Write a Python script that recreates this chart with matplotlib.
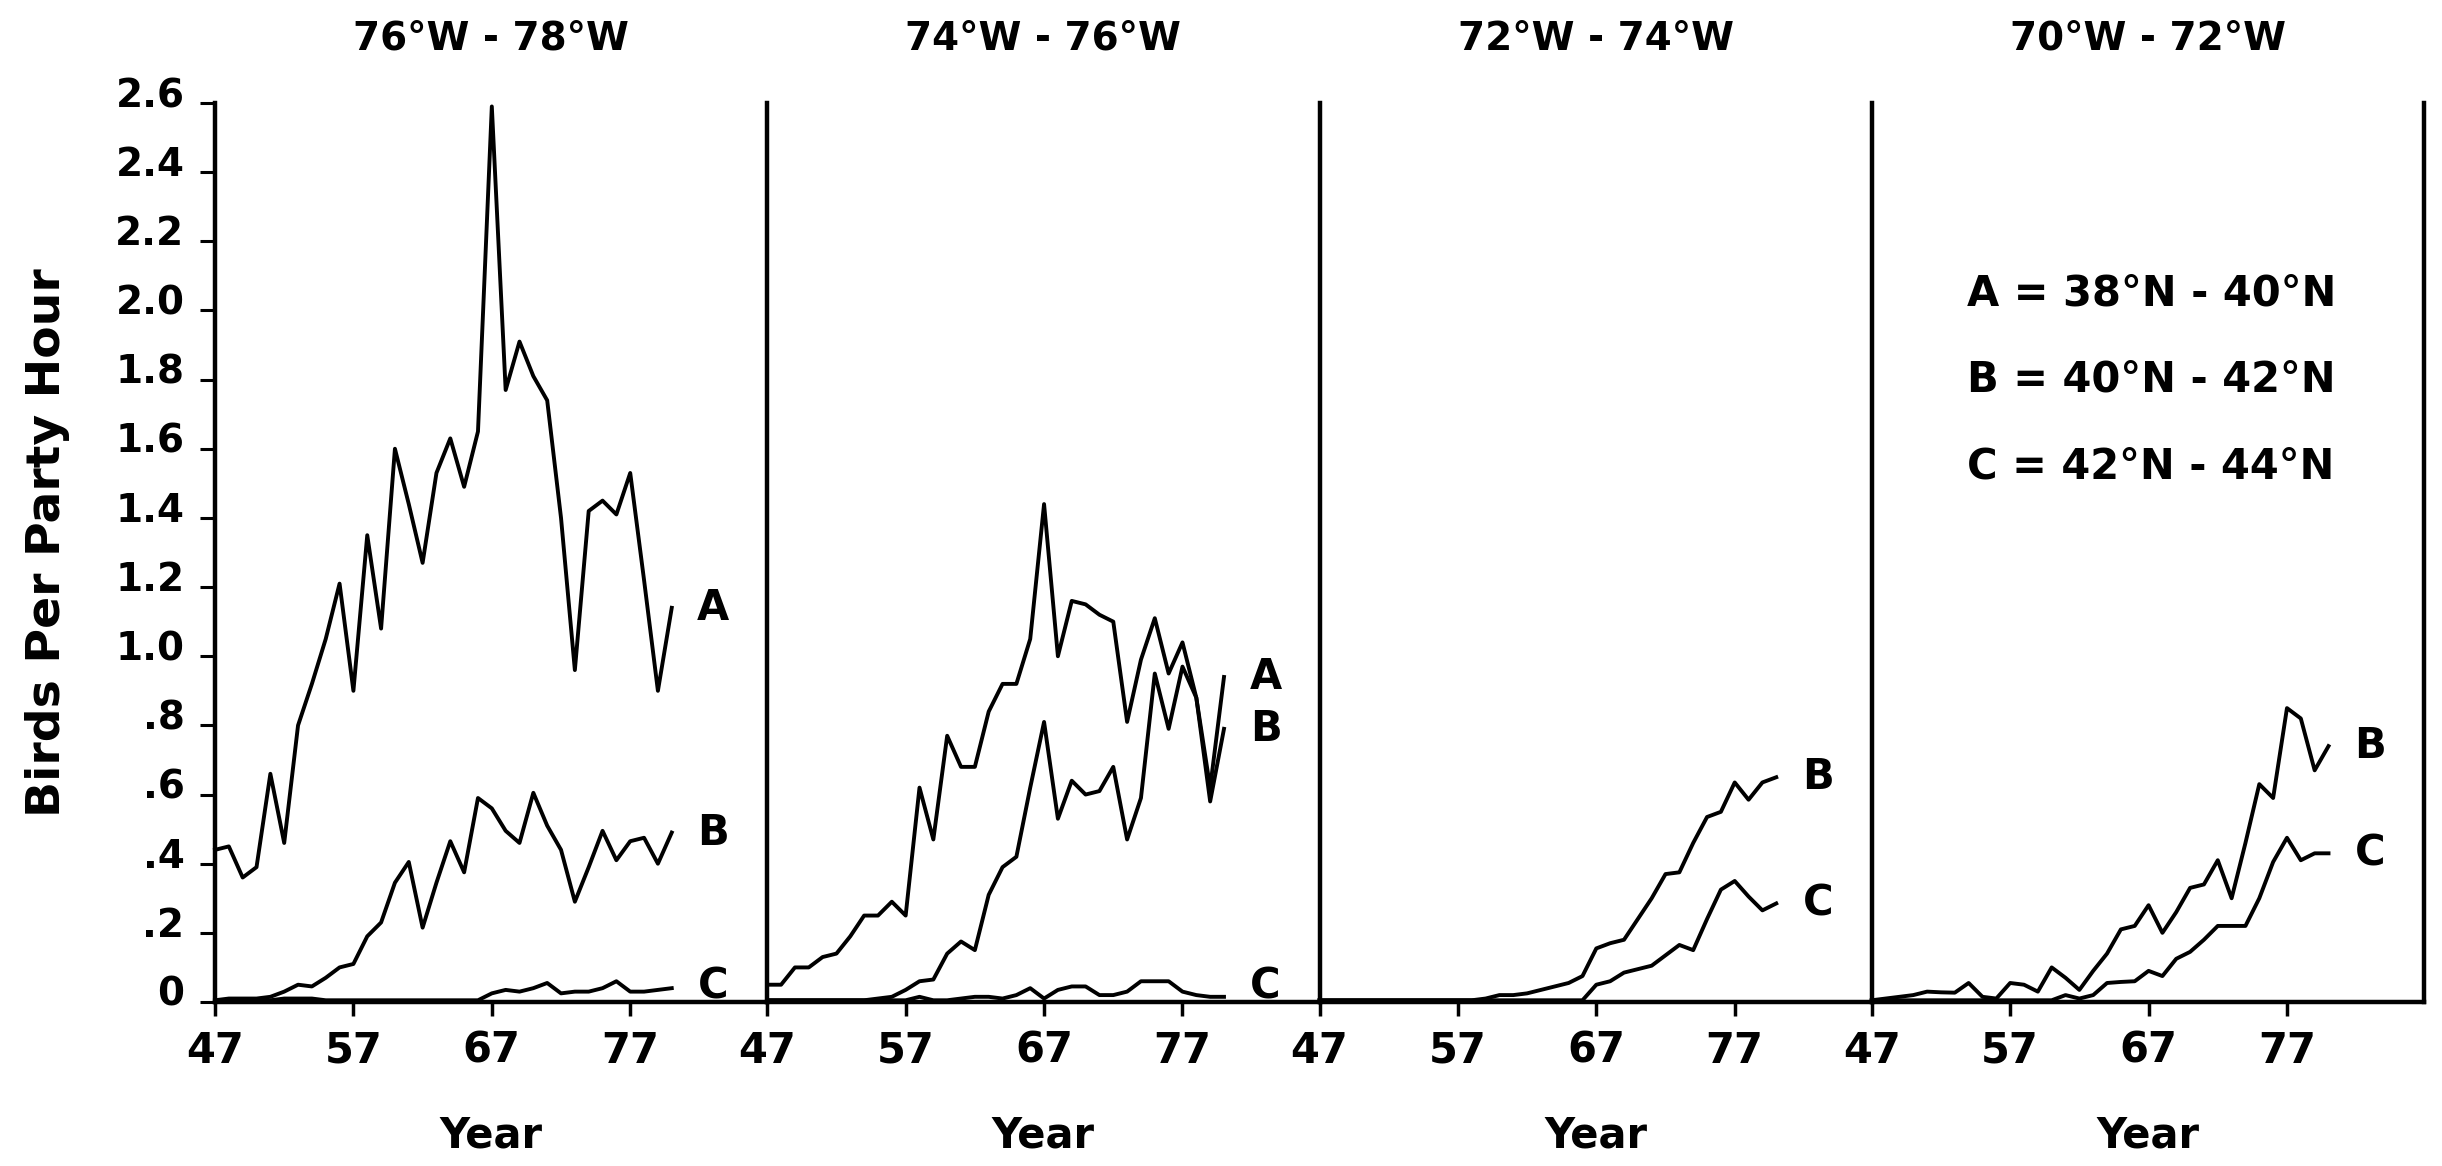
import matplotlib
matplotlib.use("Agg")
import matplotlib.pyplot as plt
import matplotlib.transforms as mtransforms

plt.rcParams['font.family'] = ['DejaVu Sans']
plt.rcParams['font.weight'] = 'bold'

# ---------------- data ----------------
years = list(range(47, 81))

panel_titles = ["76°W - 78°W", "74°W - 76°W", "72°W - 74°W", "70°W - 72°W"]

a_76_78 = [0.44, 0.45, 0.36, 0.39, 0.66, 0.46, 0.80, 0.92, 1.05, 1.21,
           0.90, 1.35, 1.08, 1.60, 1.44, 1.27, 1.53, 1.63, 1.49, 1.65,
           2.59, 1.77, 1.91, 1.81, 1.74, 1.40, 0.96, 1.42, 1.45, 1.41,
           1.53, 1.22, 0.90, 1.14]
b_76_78 = [0.005, 0.01, 0.01, 0.01, 0.015, 0.03, 0.05, 0.045, 0.07, 0.10,
           0.11, 0.19, 0.23, 0.345, 0.405, 0.215, 0.345, 0.465, 0.375, 0.59,
           0.56, 0.495, 0.46, 0.605, 0.51, 0.44, 0.29, 0.39, 0.495, 0.41,
           0.465, 0.475, 0.40, 0.49]
c_76_78 = [0.005, 0.005, 0.005, 0.005, 0.005, 0.01, 0.01, 0.01, 0.005, 0.005,
           0.005, 0.005, 0.005, 0.005, 0.005, 0.005, 0.005, 0.005, 0.005, 0.005,
           0.025, 0.035, 0.03, 0.04, 0.055, 0.025, 0.03, 0.03, 0.04, 0.06,
           0.03, 0.03, 0.035, 0.04]

a_74_76 = [0.05, 0.05, 0.10, 0.10, 0.13, 0.14, 0.19, 0.25, 0.25, 0.29,
           0.25, 0.62, 0.47, 0.77, 0.68, 0.68, 0.84, 0.92, 0.92, 1.05,
           1.44, 1.00, 1.16, 1.15, 1.12, 1.10, 0.81, 0.99, 1.11, 0.95,
           1.04, 0.88, 0.62, 0.94]
b_74_76 = [0.005, 0.005, 0.005, 0.005, 0.005, 0.005, 0.005, 0.005, 0.01, 0.015,
           0.035, 0.06, 0.065, 0.14, 0.175, 0.15, 0.31, 0.39, 0.42, 0.62,
           0.81, 0.53, 0.64, 0.60, 0.61, 0.68, 0.47, 0.59, 0.95, 0.79,
           0.97, 0.88, 0.58, 0.79]
c_74_76 = [0.005, 0.005, 0.005, 0.005, 0.005, 0.005, 0.005, 0.005, 0.005, 0.005,
           0.005, 0.015, 0.005, 0.005, 0.01, 0.015, 0.015, 0.01, 0.02, 0.04,
           0.01, 0.035, 0.045, 0.045, 0.02, 0.02, 0.03, 0.06, 0.06, 0.06,
           0.03, 0.02, 0.015, 0.015]

b_72_74 = [0.005, 0.005, 0.005, 0.005, 0.005, 0.005, 0.005, 0.005, 0.005, 0.005,
           0.005, 0.005, 0.01, 0.02, 0.02, 0.025, 0.035, 0.045, 0.055, 0.075,
           0.155, 0.17, 0.18, 0.24, 0.30, 0.37, 0.375, 0.46, 0.535, 0.55,
           0.635, 0.585, 0.635, 0.65]
c_72_74 = [0.005, 0.005, 0.005, 0.005, 0.005, 0.005, 0.005, 0.005, 0.005, 0.005,
           0.005, 0.005, 0.005, 0.005, 0.005, 0.005, 0.005, 0.005, 0.005, 0.005,
           0.05, 0.06, 0.085, 0.095, 0.105, 0.135, 0.165, 0.15, 0.24, 0.325,
           0.35, 0.305, 0.265, 0.285]

b_70_72 = [0.005, 0.01, 0.015, 0.02, 0.03, 0.028, 0.027, 0.055, 0.015, 0.01,
           0.055, 0.05, 0.03, 0.10, 0.07, 0.035, 0.09, 0.14, 0.21, 0.22,
           0.28, 0.20, 0.26, 0.33, 0.34, 0.41, 0.30, 0.46, 0.63, 0.59,
           0.85, 0.82, 0.67, 0.74]
c_70_72 = [0.005, 0.005, 0.005, 0.005, 0.005, 0.005, 0.005, 0.005, 0.005, 0.005,
           0.005, 0.005, 0.005, 0.005, 0.02, 0.01, 0.02, 0.055, 0.058, 0.06,
           0.09, 0.075, 0.125, 0.145, 0.18, 0.22, 0.22, 0.22, 0.30, 0.405,
           0.475, 0.41, 0.43, 0.43]

x_ticks = [47, 57, 67, 77]
x_tick_labels = ["47", "57", "67", "77"]
y_ticks = [0, 0.2, 0.4, 0.6, 0.8, 1.0, 1.2, 1.4, 1.6, 1.8, 2.0, 2.2, 2.4, 2.6]
y_tick_labels = ["0", ".2", ".4", ".6", ".8", "1.0", "1.2", "1.4", "1.6",
                 "1.8", "2.0", "2.2", "2.4", "2.6"]
legend_lines = ["A = 38°N - 40°N", "B = 40°N - 42°N", "C = 42°N - 44°N"]

panels = [
    {"A": a_76_78, "B": b_76_78, "C": c_76_78},
    {"A": a_74_76, "B": b_74_76, "C": c_74_76},
    {"B": b_72_74, "C": c_72_74},
    {"B": b_70_72, "C": c_70_72},
]

# ---------------- layout ----------------
W, H = 2442, 1166
fig = plt.figure(figsize=(W / 100, H / 100), dpi=100)
fig.patch.set_facecolor("white")

left0 = 215.0
pw = (2424.0 - 215.0) / 4
top_px = 103.0
bot_px = 1002.0

axes = []
for i, series in enumerate(panels):
    ax = fig.add_axes([(left0 + i * pw) / W, 1 - bot_px / H, pw / W,
                       (bot_px - top_px) / H])
    axes.append(ax)
    ax.set_xlim(47, 86.9)
    ax.set_ylim(0, 2.6)
    ax.set_facecolor("none")
    ax.spines["top"].set_visible(False)
    ax.spines["right"].set_visible(i == 3)
    for s in ("left", "bottom", "right"):
        ax.spines[s].set_linewidth(3.2)
        ax.spines[s].set_color("black")

    for name, vals in series.items():
        ax.plot(years, vals, color="black", lw=2.8, clip_on=False)
        ax.text(83, max(vals[-1], 0.045), name, ha="center", va="center",
                fontsize=30, fontweight="bold")

    ax.set_xticks(x_ticks)
    ax.set_xticklabels(x_tick_labels)
    ax.tick_params(axis="x", direction="out", length=10, width=2.5,
                   pad=10, labelsize=30)
    if i == 0:
        ax.set_yticks(y_ticks)
        ax.set_yticklabels(y_tick_labels)
        ax.tick_params(axis="y", direction="out", length=11, width=2.2,
                       pad=11, labelsize=28)
        offset = mtransforms.ScaledTranslation(0, 11 / 100, fig.dpi_scale_trans)
        for lbl in ax.get_yticklabels():
            lbl.set_transform(lbl.get_transform() + offset)
    else:
        ax.set_yticks([])

    cx = (left0 + (i + 0.5) * pw) / W
    fig.text(cx, 1 - 39 / H, panel_titles[i], ha="center", va="center",
             fontsize=28, fontweight="bold")
    fig.text(cx, 1 - 1136 / H, "Year", ha="center", va="center",
             fontsize=30, fontweight="bold")

fig.text(48 / W, 1 - 543 / H, "Birds Per Party Hour", rotation=90,
         ha="center", va="center", fontsize=34, fontweight="bold")

for k, line in enumerate(legend_lines):
    fig.text(1967 / W, 1 - (293.5 + k * 86.5) / H, line, ha="left",
             va="center", fontsize=30, fontweight="bold")

fig.savefig("out.png", dpi=100, facecolor="white")
